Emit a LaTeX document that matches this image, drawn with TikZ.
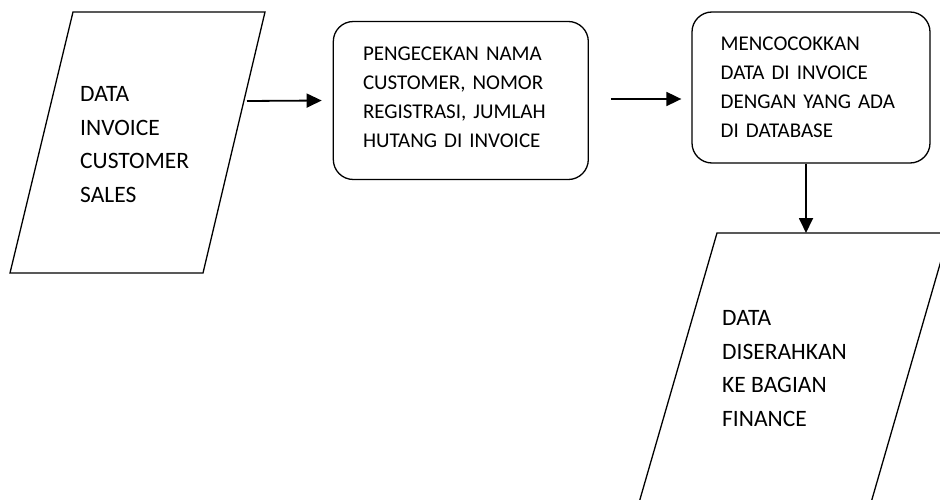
\documentclass[tikz,border=0pt]{standalone}
\usepackage{fontspec}
\setmainfont{Carlito}
\usetikzlibrary{arrows.meta}
\begin{document}
\begin{tikzpicture}[x=1pt,y=-1pt,
  outline/.style={draw=black, line width=1.3pt, line join=miter},
  procbox/.style={draw=black, line width=1.3pt, rounded corners=20pt, align=left,
    inner xsep=0pt, inner ysep=0pt, font=\fontsize{21}{29}\selectfont},
  iotext/.style={align=left, inner sep=0pt, anchor=north west,
    font=\fontsize{23.5}{33.5}\selectfont},
  flow/.style={line width=1.8pt, -{Triangle[length=15pt,width=14pt]}}]
\clip (0,0) rectangle (940,500);
\fill[white] (0,0) rectangle (940,500);

% input data (parallelogram)
\coordinate (p1a) at (73,12);
\coordinate (p1b) at (265,12);
\coordinate (p1c) at (203,273);
\coordinate (p1d) at (10,273);
\draw[outline] (p1a) -- (p1b) -- (p1c) -- (p1d) -- cycle;
\node[iotext] (t1) at (80,86.5) {DATA\\INVOICE\\CUSTOMER\\SALES};
\coordinate (p1out) at (247,101);

% processing steps
\node[procbox, minimum width=255pt, minimum height=158pt, text width=195.6pt]
  (b2) at (460.8,100.5) {\mbox{PENGECEKAN NAMA}\\\mbox{CUSTOMER, NOMOR}\\
    \mbox{REGISTRASI, JUMLAH}\\\mbox{HUTANG DI INVOICE}\rule[-6pt]{0pt}{6pt}};
\node[procbox, minimum width=238pt, minimum height=151pt, text width=180.6pt]
  (b3) at (811,87.5) {\mbox{MENCOCOKKAN}\\\mbox{DATA DI INVOICE}\\
    \mbox{DENGAN YANG ADA}\\\mbox{DI DATABASE}};

% output data (parallelogram, runs off the page)
\coordinate (p2a) at (717,233);
\coordinate (p2b) at (949,233);
\coordinate (p2c) at (866,520);
\coordinate (p2d) at (634,520);
\draw[outline] (p2a) -- (p2b) -- (p2c) -- (p2d) -- cycle;
\node[iotext] (t2) at (722,310.5) {DATA\\DISERAHKAN\\KE BAGIAN\\FINANCE};
\coordinate (p2in) at (806,233);

% flow arrows
\draw[flow] (p1out) -- ([xshift=-11pt]b2.west);
\draw[flow] ([shift={(22,-1.5)}]b2.east) -- ([shift={(-10,11.5)}]b3.west);
\draw[flow] ([xshift=-5pt]b3.south) -- (p2in);
\end{tikzpicture}
\end{document}
